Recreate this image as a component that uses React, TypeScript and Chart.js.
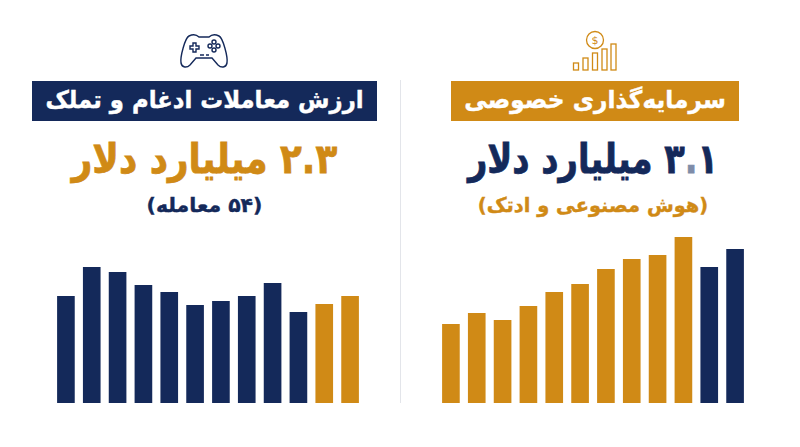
import React, { useEffect, useRef } from 'react';
import { Chart, registerables } from 'chart.js';

Chart.register(...registerables);

const GOLD = '#D08A16';
const NAVY = '#14295A';

const periods = ['1', '2', '3', '4', '5', '6', '7', '8', '9', '10', '11', '12'];
const privateEquityValues = [79, 90, 83, 97, 111, 119, 134, 144, 148, 166, 136, 154];
const mergerValues = [107, 136, 131, 118, 111, 98, 102, 107, 120, 91, 99, 107];

const FONT = '"DejaVu Sans", sans-serif';

interface BarsProps {
  values: number[];
  base: string;
  recent: string;
  left: number;
}

const Bars: React.FC<BarsProps> = ({ values, base, recent, left }) => {
  const canvasRef = useRef<HTMLCanvasElement>(null);

  useEffect(() => {
    if (!canvasRef.current) return;
    const chart = new Chart(canvasRef.current, {
      type: 'bar',
      data: {
        labels: periods,
        datasets: [
          {
            data: values,
            backgroundColor: (ctx: any) => (ctx.dataIndex >= 10 ? recent : base),
            barPercentage: 0.683,
            categoryPercentage: 1,
          },
        ],
      },
      options: {
        responsive: false,
        animation: false,
        layout: { padding: 0 },
        plugins: { legend: { display: false }, tooltip: { enabled: false } },
        scales: {
          x: { display: false },
          y: { display: false, min: 0, max: 170 },
        },
      },
    });
    return () => chart.destroy();
  }, [values, base, recent]);

  return (
    <canvas
      ref={canvasRef}
      width={310}
      height={170}
      style={{ position: 'absolute', left, top: 233, display: 'block' }}
    />
  );
};

// squeeze is there because DejaVu runs wider than the font in the picture
const line = (top: number, left: number, width: number, size: number, color: string, squeeze: number, weight: number): React.CSSProperties => ({
  position: 'absolute',
  top,
  left,
  width,
  textAlign: 'center',
  fontFamily: FONT,
  fontWeight: 'bold',
  fontSize: size,
  lineHeight: 1,
  color,
  direction: 'rtl',
  whiteSpace: 'nowrap',
  transform: `scaleX(${squeeze})`,
  WebkitTextStroke: `${weight}px ${color}`,
});

const App: React.FC = () => {
  return (
    <div style={{ position: 'fixed', left: 0, top: 0, width: 800, height: 447, background: '#fff', overflow: 'hidden' }}>
      <div style={{ position: 'absolute', left: 400, top: 80, width: 1, height: 323, background: '#E3E5EA' }} />

      {/* game controller icon */}
      <svg style={{ position: 'absolute', left: 178, top: 32 }} width={52} height={38} viewBox="0 0 52 38" fill="none" stroke={NAVY} strokeWidth={1.4}>
        <path d="M11 4 C15 2 19 3 21 5 H31 C33 3 37 2 41 4 C45 6 50 25 49 31 C48 36 43 36 40 33 L34 26 H18 L12 33 C9 36 4 36 3 31 C2 25 7 6 11 4 Z" />
        <path d="M12 14 H15 V11 H18 V14 H21 V17 H18 V20 H15 V17 H12 Z" />
        <circle cx="36" cy="10" r="2" />
        <circle cx="36" cy="18" r="2" />
        <circle cx="32" cy="14" r="2" />
        <circle cx="40" cy="14" r="2" />
        <path d="M22 23 H26 M28 23 H31" />
      </svg>

      {/* money and bars icon */}
      <svg style={{ position: 'absolute', left: 570, top: 28 }} width={50} height={44} viewBox="0 0 50 44" fill="none" stroke={GOLD} strokeWidth={1.3}>
        <circle cx="25" cy="12" r="8.5" />
        <text x="25" y="16" textAnchor="middle" fontSize="11" fontFamily={FONT} fill={GOLD} stroke="none">$</text>
        <rect x="3.5" y="35" width="5" height="7" />
        <rect x="13" y="30" width="5" height="12" />
        <rect x="22.5" y="25" width="5" height="17" />
        <rect x="32" y="21" width="5" height="21" />
        <rect x="41" y="16" width="5" height="26" />
      </svg>

      <div style={{ position: 'absolute', left: 32, top: 81, width: 345, height: 40, background: NAVY }} />
      <div style={{ position: 'absolute', left: 451, top: 81, width: 288, height: 40, background: GOLD }} />

      <div style={line(88, 32, 345, 24, '#fff', 0.95, 0.4)}>ارزش معاملات ادغام و تملک</div>
      <div style={line(88, 451, 288, 24, '#fff', 0.97, 0.4)}>سرمایه‌گذاری خصوصی</div>

      <div style={line(139, 32, 345, 41, GOLD, 0.87, 0.8)}>۲.۳ میلیارد دلار</div>
      <div style={line(139, 456, 288, 41, NAVY, 0.82, 0.8)}>
        ۳<span style={{ color: '#7F8CA8', WebkitTextStroke: '0.8px #7F8CA8' }}>.</span>۱ میلیارد دلار
      </div>

      <div style={line(195, 32, 345, 20, NAVY, 1.02, 0.4)}>(۵۴ معامله)</div>
      <div style={line(195, 449, 288, 20, GOLD, 0.97, 0.4)}>(هوش مصنوعی و ادتک)</div>

      <Bars values={mergerValues} base={NAVY} recent={GOLD} left={53} />
      <Bars values={privateEquityValues} base={GOLD} recent={NAVY} left={438} />
    </div>
  );
};

export default App;
